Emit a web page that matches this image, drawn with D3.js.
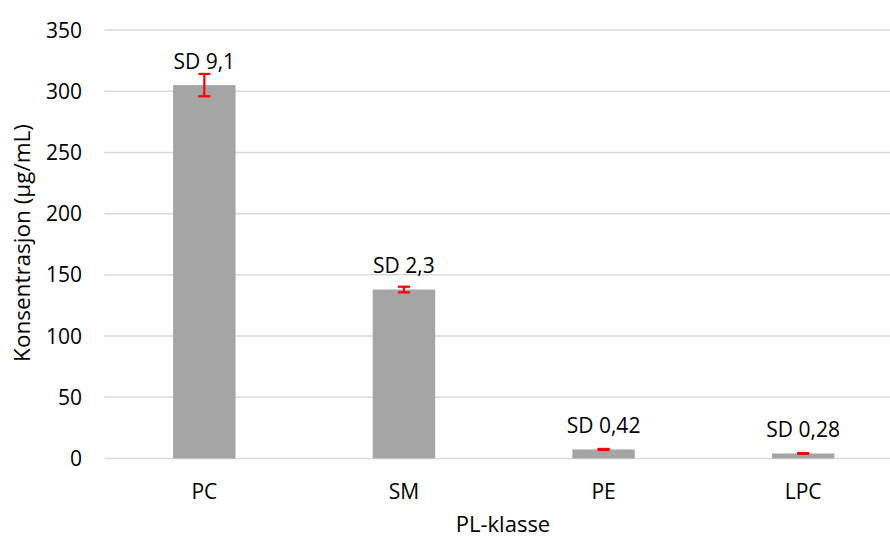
<!DOCTYPE html>
<html><head><meta charset="utf-8">
<script src="https://cdn.jsdelivr.net/npm/d3@7"></script>
<style>body{margin:0;background:#fff}svg{display:block}text{font-family:"Open Sans",sans-serif;fill:#000}</style>
</head><body><svg id="c" width="890" height="539"></svg>
<script>
const categories = ["PC","SM","PE","LPC"];
const values = [305, 138, 7.4, 4.1];
const sds = [9.1, 2.3, 0.42, 0.28];
const sdLabels = ["SD 9,1","SD 2,3","SD 0,42","SD 0,28"];
const yTicks = [0,50,100,150,200,250,300,350];

const svg = d3.select("#c");
const x = d3.scaleBand().domain(categories).range([104.5, 903]).paddingInner(0.687).paddingOuter(0.3435);
const y = d3.scaleLinear().domain([0,350]).range([458.5, 30]);

// gridlines
svg.append("g").selectAll("line").data(yTicks).join("line")
  .attr("x1",104.5).attr("x2",903)
  .attr("y1",d=>y(d)).attr("y2",d=>y(d))
  .attr("stroke","#d9d9d9").attr("stroke-width",1.5);

// y tick labels
svg.append("g").selectAll("text").data(yTicks).join("text")
  .attr("x",82).attr("y",d=>y(d)).attr("dy","0.36em")
  .attr("text-anchor","end").attr("font-size",21).text(d=>d);

// bars
svg.append("g").selectAll("rect").data(categories).join("rect")
  .attr("x",d=>x(d)).attr("width",x.bandwidth())
  .attr("y",(d,i)=>y(values[i])).attr("height",(d,i)=>y(0)-y(values[i]))
  .attr("fill","#a5a5a5");

// error bars
const eb = svg.append("g").attr("stroke","#ff0000").attr("stroke-width",2.2);
categories.forEach((c,i)=>{
  const cx = x(c)+x.bandwidth()/2;
  const top = y(values[i]+sds[i]), bot = y(values[i]-sds[i]);
  eb.append("line").attr("x1",cx).attr("x2",cx).attr("y1",top).attr("y2",bot);
  eb.append("line").attr("x1",cx-6).attr("x2",cx+6).attr("y1",top).attr("y2",top);
  eb.append("line").attr("x1",cx-6).attr("x2",cx+6).attr("y1",bot).attr("y2",bot);
});

// data labels
svg.append("g").selectAll("text").data(categories).join("text")
  .attr("x",d=>x(d)+x.bandwidth()/2)
  .attr("y",(d,i)=>y(values[i])-24).attr("dy","0.36em")
  .attr("text-anchor","middle").attr("font-size",21).text((d,i)=>sdLabels[i]);

// category labels
svg.append("g").selectAll("text").data(categories).join("text")
  .attr("x",d=>x(d)+x.bandwidth()/2).attr("y",491).attr("dy","0.36em")
  .attr("text-anchor","middle").attr("font-size",21).text(d=>d);

// axis titles
svg.append("text").attr("x",503).attr("y",524).attr("dy","0.36em")
  .attr("text-anchor","middle").attr("font-size",22).text("PL-klasse");
svg.append("text").attr("transform","translate(22,243) rotate(-90)").attr("dy","0.36em")
  .attr("text-anchor","middle").attr("font-size",22.5).text("Konsentrasjon (µg/mL)");
</script></body></html>
